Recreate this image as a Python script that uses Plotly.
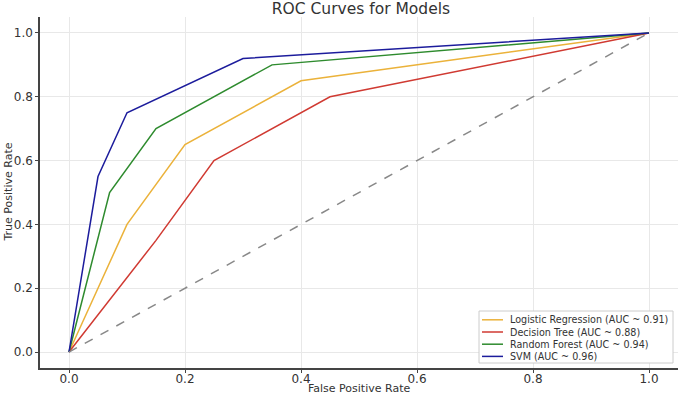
import plotly.graph_objects as go

# ROC data
lr_fpr = [0.0, 0.1, 0.2, 0.4, 1.0]
lr_tpr = [0.0, 0.4, 0.65, 0.85, 1.0]
dt_fpr = [0.0, 0.15, 0.25, 0.45, 1.0]
dt_tpr = [0.0, 0.35, 0.6, 0.8, 1.0]
rf_fpr = [0.0, 0.07, 0.15, 0.35, 1.0]
rf_tpr = [0.0, 0.5, 0.7, 0.9, 1.0]
svm_fpr = [0.0, 0.05, 0.1, 0.3, 1.0]
svm_tpr = [0.0, 0.55, 0.75, 0.92, 1.0]
diag = [0.0, 1.0]

names = ["Logistic Regression (AUC ~ 0.91)", "Decision Tree (AUC ~ 0.88)",
         "Random Forest (AUC ~ 0.94)", "SVM (AUC ~ 0.96)"]
colors = ["#EBB23A", "#D03A32", "#2E8B2E", "#1C1C9C"]
tick_vals = [0.0, 0.2, 0.4, 0.6, 0.8, 1.0]
tick_text = ["0.0", "0.2", "0.4", "0.6", "0.8", "1.0"]

W, H = 681, 394
ML, MR, MT, MB = 40, 3, 17, 26
PW, PH = W - ML - MR, H - MT - MB


def px_x(p):  # pixel x -> paper x
    return (p - ML) / PW


def px_y(p):  # pixel y -> paper y
    return (H - MB - p) / PH


fig = go.Figure()
for fx, ty, nm, c in zip([lr_fpr, dt_fpr, rf_fpr, svm_fpr],
                         [lr_tpr, dt_tpr, rf_tpr, svm_tpr], names, colors):
    fig.add_trace(go.Scatter(x=fx, y=ty, mode="lines", name=nm,
                             line=dict(color=c, width=1.5), showlegend=False))
fig.add_trace(go.Scatter(x=diag, y=diag, mode="lines", showlegend=False,
                         line=dict(color="#888888", width=1.5, dash="dash")))

axis_common = dict(
    tickvals=tick_vals, ticktext=tick_text, range=[-0.05, 1.05],
    showgrid=True, gridcolor="#e8e8e8", gridwidth=1,
    zeroline=False, showline=True, linecolor="#444444", linewidth=1.5,
    ticks="outside", ticklen=3, tickcolor="#444444",
    tickfont=dict(size=12, color="#333333"), automargin=False,
)

shapes = []
annotations = []
# compact legend box (bottom-right)
lx0, lx1, ly0, ly1 = 479, 673, 311, 363
shapes.append(dict(type="rect", xref="paper", yref="paper",
                   x0=px_x(lx0), x1=px_x(lx1), y0=px_y(ly1), y1=px_y(ly0),
                   line=dict(color="#cccccc", width=1), fillcolor="white",
                   layer="above"))
for i, (nm, c) in enumerate(zip(names, colors)):
    yc = 319.8 + i * 12.2
    shapes.append(dict(type="line", xref="paper", yref="paper",
                       x0=px_x(482), x1=px_x(503), y0=px_y(yc), y1=px_y(yc),
                       line=dict(color=c, width=1.5), layer="above"))
    annotations.append(dict(text=nm, xref="paper", yref="paper",
                            x=px_x(508), y=px_y(yc), xanchor="left",
                            yanchor="middle", showarrow=False,
                            font=dict(size=9.6, color="#333333")))

annotations.append(dict(text="False Positive Rate", xref="paper", yref="paper",
                        x=0.5, y=px_y(388), xanchor="center", yanchor="middle",
                        showarrow=False, font=dict(size=11, color="#333333")))
annotations.append(dict(text="True Positive Rate", xref="paper", yref="paper",
                        x=px_x(8), y=0.5, xanchor="center", yanchor="middle",
                        textangle=-90, showarrow=False,
                        font=dict(size=11, color="#333333")))

fig.update_layout(
    width=W, height=H,
    margin=dict(l=ML, r=MR, t=MT, b=MB, autoexpand=False),
    paper_bgcolor="white", plot_bgcolor="white",
    font=dict(family="DejaVu Sans", color="#333333"),
    title=dict(text="ROC Curves for Models", x=0.53, xanchor="center",
               y=0.993, yanchor="top", font=dict(size=15.5, color="#333333"),
               automargin=False),
    xaxis=dict(ticklabelstandoff=-4, **axis_common),
    yaxis=axis_common,
    shapes=shapes,
    annotations=annotations,
    showlegend=False,
)

fig.write_html("out.html", config={"displayModeBar": False},
               post_script="document.body.style.margin='0';"
                           "document.body.style.overflow='hidden';")
